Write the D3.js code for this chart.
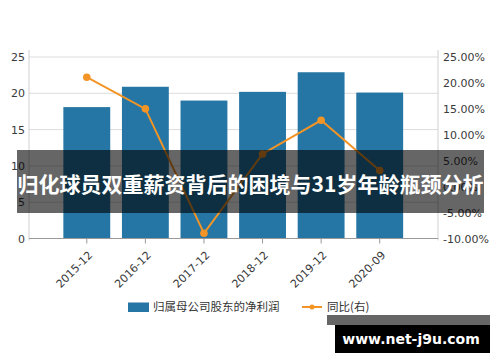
<!DOCTYPE html>
<html>
<head>
<meta charset="utf-8">
<script src="https://cdn.jsdelivr.net/npm/d3@7"></script>
<style>
  body { margin: 0; background: #fff; }
  svg { display: block; }
</style>
</head>
<body>
<div id="chart"></div>
<script>
// data
var periods = ['2015-12', '2016-12', '2017-12', '2018-12', '2019-12', '2020-09'];
var netProfit = [18.1, 20.9, 19.0, 20.2, 22.9, 20.1];
var yoy = [21.1, 15.0, -9.0, 6.3, 12.8, 3.1];
var leftTicks = [0, 5, 10, 15, 20, 25];
var rightTicks = [-10, -5, 0, 5, 10, 15, 20, 25];
var legendLabels = ['归属母公司股东的净利润', '同比(右)'];
var title = '归化球员双重薪资背后的困境与31岁年龄瓶颈分析';
var watermark = 'www.net-j9u.com';

var width = 500,
    height = 362,
    plotLeft = 29,
    plotRight = 438,
    plotTop = 57,
    plotBottom = 238.5;

var barColor = '#2576a4',
    lineColor = '#f39426';

var svg = d3.select('#chart')
  .append('svg')
    .attr('width', width)
    .attr('height', height);

var x = d3.scaleBand()
  .domain(periods)
  .range([57.5, 409])
  .paddingInner(0.2)
  .paddingOuter(0.1);

var y = d3.scaleLinear().domain([0, 25]).range([plotBottom, plotTop]);
var y2 = d3.scaleLinear().domain([-10, 25]).range([plotBottom, plotTop]);

// grid lines
svg.append('g')
  .selectAll('line')
  .data(leftTicks)
  .enter().append('line')
    .attr('x1', plotLeft)
    .attr('x2', plotRight)
    .attr('y1', function(d) { return y(d); })
    .attr('y2', function(d) { return y(d); })
    .attr('stroke', '#dcdcdc')
    .attr('stroke-width', 1);

// side axis lines
svg.append('line')
  .attr('x1', plotLeft).attr('x2', plotLeft)
  .attr('y1', 50).attr('y2', plotBottom + 2)
  .attr('stroke', '#d0d0d0');
svg.append('line')
  .attr('x1', plotRight).attr('x2', plotRight)
  .attr('y1', 50).attr('y2', plotBottom + 2)
  .attr('stroke', '#d0d0d0');

// left axis
var leftAxis = svg.append('g')
  .attr('transform', 'translate(' + plotLeft + ',0)')
  .call(d3.axisLeft(y).tickValues(leftTicks).tickSize(0).tickPadding(4));
leftAxis.select('.domain').remove();
leftAxis.selectAll('text')
  .style('font-family', 'DejaVu Sans')
  .style('font-size', '11px')
  .attr('fill', '#3a3a3a');

// right axis
var rightAxis = svg.append('g')
  .attr('transform', 'translate(' + plotRight + ',0)')
  .call(d3.axisRight(y2).tickValues(rightTicks).tickSize(0).tickPadding(5)
    .tickFormat(function(d) { return d.toFixed(2) + '%'; }));
rightAxis.select('.domain').remove();
rightAxis.selectAll('text')
  .style('font-family', 'DejaVu Sans')
  .style('font-size', '11px')
  .attr('fill', '#3a3a3a');

// bars
svg.append('g')
  .selectAll('rect')
  .data(netProfit)
  .enter().append('rect')
    .attr('x', function(d, i) { return x(periods[i]); })
    .attr('y', function(d) { return y(d); })
    .attr('width', x.bandwidth())
    .attr('height', function(d) { return plotBottom - y(d); })
    .attr('fill', barColor);

// bottom axis
svg.append('line')
  .attr('x1', plotLeft).attr('x2', plotRight)
  .attr('y1', plotBottom).attr('y2', plotBottom)
  .attr('stroke', '#999');
var bottomAxis = svg.append('g')
  .attr('transform', 'translate(0,' + plotBottom + ')')
  .call(d3.axisBottom(x).tickSize(5).tickSizeOuter(0));
bottomAxis.select('.domain').remove();
bottomAxis.selectAll('line').attr('stroke', '#999');
bottomAxis.selectAll('text')
  .style('font-family', 'DejaVu Sans')
  .style('font-size', '11px')
  .attr('fill', '#3a3a3a')
  .attr('text-anchor', 'end')
  .attr('transform', 'translate(-2,9) rotate(-45)')
  .attr('dy', '0.35em');

// yoy line
var line = d3.line()
  .x(function(d, i) { return x(periods[i]) + x.bandwidth() / 2; })
  .y(function(d) { return y2(d); });

svg.append('path')
  .datum(yoy)
  .attr('d', line)
  .attr('fill', 'none')
  .attr('stroke', lineColor)
  .attr('stroke-width', 2);

svg.append('g')
  .selectAll('circle')
  .data(yoy)
  .enter().append('circle')
    .attr('cx', function(d, i) { return x(periods[i]) + x.bandwidth() / 2; })
    .attr('cy', function(d) { return y2(d); })
    .attr('r', 3.8)
    .attr('fill', lineColor);

// legend
var legend = svg.append('g').attr('transform', 'translate(0,307)');
legend.append('rect')
  .attr('x', 128).attr('y', -4.5)
  .attr('width', 21).attr('height', 9.5)
  .attr('fill', barColor);
legend.append('text')
  .attr('x', 153).attr('y', 0)
  .attr('dy', '0.35em')
  .style('font-family', 'Noto Sans CJK SC')
  .style('font-size', '11.5px')
  .attr('fill', '#333')
  .text(legendLabels[0]);
legend.append('line')
  .attr('x1', 302).attr('x2', 322)
  .attr('y1', 0).attr('y2', 0)
  .attr('stroke', lineColor).attr('stroke-width', 2);
legend.append('circle')
  .attr('cx', 312).attr('cy', 0).attr('r', 2.5)
  .attr('fill', lineColor);
legend.append('text')
  .attr('x', 327).attr('y', 0)
  .attr('dy', '0.35em')
  .style('font-family', 'Noto Sans CJK SC')
  .style('font-size', '11.5px')
  .attr('fill', '#333')
  .text(legendLabels[1]);

// title overlay
svg.append('rect')
  .attr('x', 17).attr('y', 150)
  .attr('width', 467).attr('height', 63)
  .attr('fill', 'rgba(0,0,0,0.6)');
svg.append('text')
  .attr('x', 250.5).attr('y', 185)
  .attr('dy', '0.35em')
  .attr('text-anchor', 'middle')
  .style('font-family', 'Noto Sans CJK SC')
  .style('font-weight', 'bold')
  .style('font-size', '21px')
  .attr('fill', '#fff')
  .text(title);

// watermark
svg.append('rect')
  .attr('x', 327).attr('y', 315)
  .attr('width', 163).attr('height', 10)
  .attr('fill', '#666');
svg.append('rect')
  .attr('x', 335).attr('y', 325)
  .attr('width', 155).attr('height', 28)
  .attr('fill', '#000');
svg.append('text')
  .attr('x', 411).attr('y', 339)
  .attr('dy', '0.35em')
  .attr('text-anchor', 'middle')
  .style('font-family', 'DejaVu Sans')
  .style('font-weight', 'bold')
  .style('font-size', '14px')
  .attr('fill', '#fff')
  .text(watermark);
</script>
</body>
</html>
